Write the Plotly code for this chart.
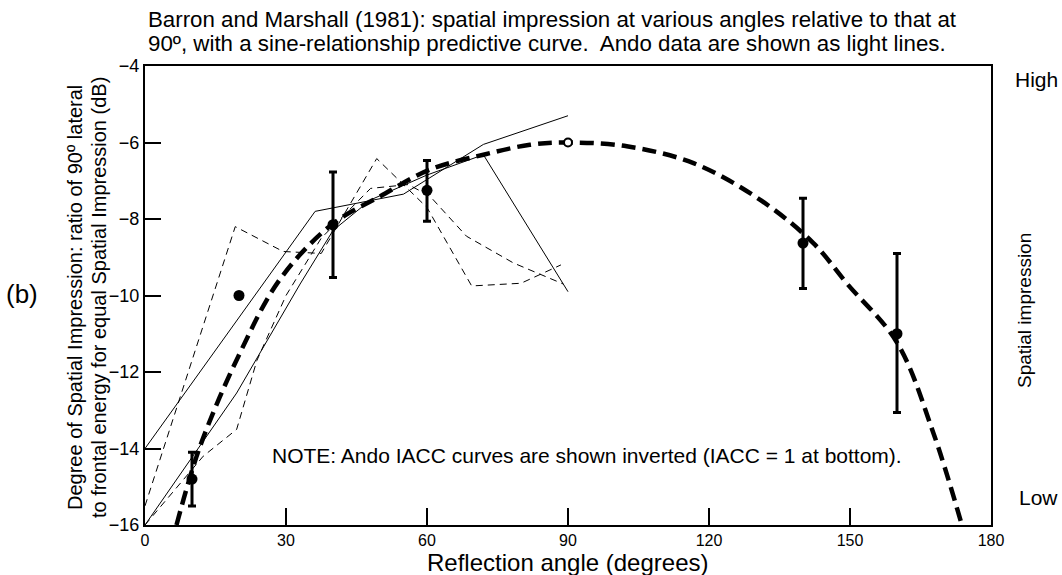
import plotly.graph_objects as go

# Barron & Marshall (1981) measurements: angle (deg) and level (dB) with error-bar limits
bm_angle = [10, 20, 40, 60, 140, 160]
bm_level = [-14.8, -10.0, -8.15, -7.25, -8.63, -11.0]
bm_upper = [-14.1, -10.0, -6.77, -6.47, -7.46, -8.9]
bm_lower = [-15.5, -10.0, -9.53, -8.06, -9.82, -13.06]

# reference point at 90 degrees
ref_angle = [90]
ref_level = [-6.0]

# sine-relationship predictive curve
pred_angle = [6.7, 11.7, 19.9, 28.7, 39.7, 50, 60.6, 72, 81.9, 90, 102.5, 116.7,
              130.9, 142.2, 149.3, 160, 167.7, 173.8]
pred_level = [-16.0, -13.95, -11.58, -9.58, -8.15, -7.41, -6.71, -6.32, -6.06, -6.0,
              -6.1, -6.54, -7.5, -8.63, -9.68, -11.23, -13.58, -16.0]

# Ando IACC curves (inverted), solid
ando_a_angle = [0, 36.2, 55, 72, 90]
ando_a_level = [-14.0, -7.8, -7.35, -6.05, -5.3]
ando_b_angle = [0, 19.5, 33, 40, 48, 60, 72, 90]
ando_b_level = [-16.0, -12.55, -9.7, -8.3, -7.5, -6.85, -6.32, -9.9]

# Ando IACC curves (inverted), dashed
ando_c_angle = [0, 19.2, 29.4, 37.5, 49.3, 60, 69.5, 80, 88.5]
ando_c_level = [-15.5, -8.2, -8.85, -8.9, -6.42, -7.7, -9.75, -9.68, -9.2]
ando_d_angle = [0, 12.4, 19.5, 23.8, 30, 37.5, 48, 56, 60.6, 68.4, 78.4, 89]
ando_d_level = [-16.0, -14.2, -13.5, -11.7, -10.0, -8.5, -7.2, -7.1, -7.4, -8.45,
                -9.15, -9.7]

x_ticks = [0, 30, 60, 90, 120, 150, 180]
y_ticks = [-16, -14, -12, -10, -8, -6, -4]

FONT = "Liberation Sans, Arial, Helvetica, sans-serif"

fig = go.Figure()

for ax, ay in [(ando_a_angle, ando_a_level), (ando_b_angle, ando_b_level)]:
    fig.add_trace(go.Scatter(x=ax, y=ay, mode="lines",
                             line=dict(color="black", width=1), hoverinfo="skip"))
for ax, ay in [(ando_c_angle, ando_c_level), (ando_d_angle, ando_d_level)]:
    fig.add_trace(go.Scatter(x=ax, y=ay, mode="lines",
                             line=dict(color="black", width=1, dash="7px,5px"),
                             hoverinfo="skip"))

fig.add_trace(go.Scatter(x=pred_angle, y=pred_level, mode="lines",
                         line=dict(color="black", width=4.5, dash="14px,7px",
                                   shape="spline", smoothing=1.0)))

err_plus = [u - m for u, m in zip(bm_upper, bm_level)]
err_minus = [m - l for m, l in zip(bm_level, bm_lower)]
fig.add_trace(go.Scatter(
    x=bm_angle, y=bm_level, mode="markers",
    marker=dict(color="black", size=11, symbol="circle"),
    error_y=dict(type="data", symmetric=False, array=err_plus, arrayminus=err_minus,
                 color="black", thickness=3, width=4),
))
fig.add_trace(go.Scatter(
    x=ref_angle, y=ref_level, mode="markers",
    marker=dict(color="white", size=8, symbol="circle",
                line=dict(color="black", width=2)),
))

L, R, T, B = 145, 71, 66, 50
W, H = 1062, 575
PW, PH = W - L - R, H - T - B


def px(x):
    return (x - L) / PW


def py(y):
    return (H - B - y) / PH


def note(text, x, y, size, angle=0, xanchor="center"):
    fig.add_annotation(text=text, xref="paper", yref="paper", x=px(x), y=py(y),
                       xanchor=xanchor, yanchor="middle", showarrow=False,
                       textangle=angle, font=dict(family=FONT, size=size, color="black"))


note("Barron and Marshall (1981): spatial impression at various angles relative to that at",
     146, 19, 22.3, xanchor="left")
note("90º, with a sine-relationship predictive curve.  Ando data are shown as light lines.",
     146, 43, 22.3, xanchor="left")
note("(b)", 22, 294, 26)
note("Degree of Spatial Impression: ratio of 90º lateral", 75, 298, 20, angle=-90)
note("to frontal energy for equal Spatial Impression (dB)", 99, 298, 20, angle=-90)
note("Reflection angle (degrees)", 568, 562, 24)
note("High", 1036, 80, 21)
note("Low", 1038, 497, 21)
note("Spatial impression", 1024, 310, 19, angle=-90)
note("NOTE: Ando IACC curves are shown inverted (IACC = 1 at bottom).", 587, 455, 21)

fig.update_layout(
    width=W, height=H, autosize=False,
    margin=dict(l=L, r=R, t=T, b=B, pad=0),
    paper_bgcolor="white", plot_bgcolor="white",
    showlegend=False,
    font=dict(family=FONT, color="black"),
    xaxis=dict(range=[0, 180], tickvals=x_ticks, showgrid=False, zeroline=False,
               showline=True, linecolor="black", linewidth=2, mirror=True,
               ticks="inside", ticklen=17, tickwidth=2, tickcolor="black",
               tickfont=dict(size=16, family=FONT)),
    yaxis=dict(range=[-16, -4], tickvals=y_ticks, showgrid=False, zeroline=False,
               showline=True, linecolor="black", linewidth=2, mirror=True,
               ticks="inside", ticklen=16, tickwidth=2, tickcolor="black",
               tickfont=dict(size=18, family=FONT)),
)

fig.write_html("out.html")
